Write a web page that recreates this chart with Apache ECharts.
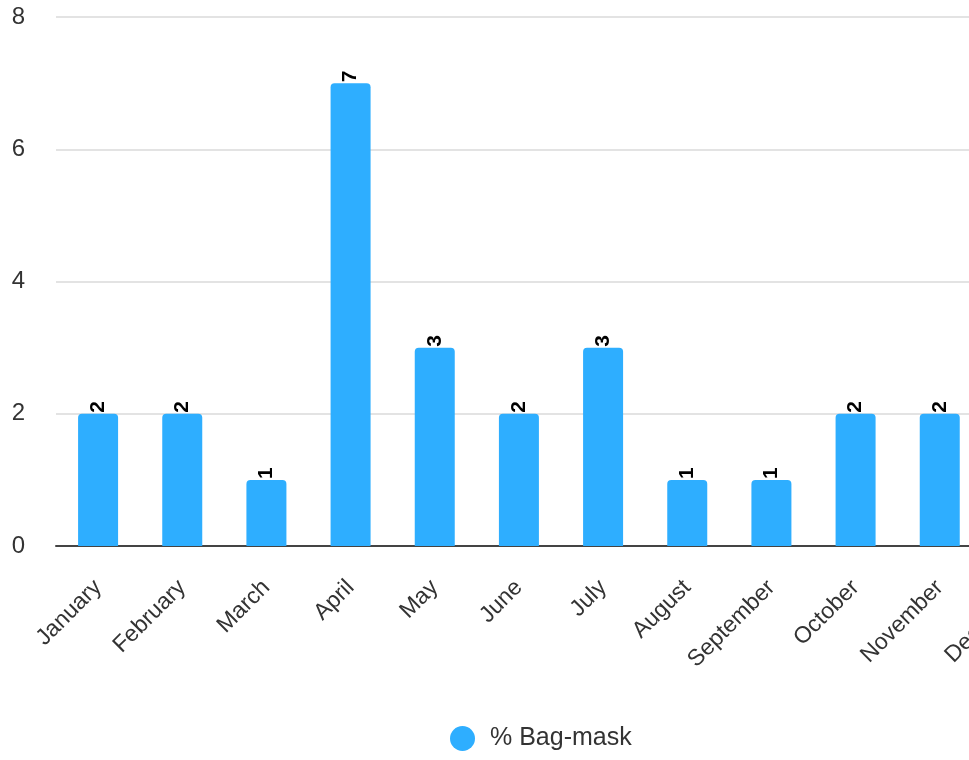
<!DOCTYPE html>
<html>
<head>
<meta charset="utf-8">
<script src="https://cdn.jsdelivr.net/npm/echarts@6/dist/echarts.min.js"></script>
<style>
html,body{margin:0;padding:0;overflow:hidden;background:#fff;}
#chart{width:1085px;height:760px;}
</style>
</head>
<body>
<div id="chart"></div>
<script>
var categories = ["January","February","March","April","May","June","July","August","September","October","November","December"];
var values = [2,2,1,7,3,2,3,1,1,2,2,2];
var seriesName = "% Bag-mask";

var chart = echarts.init(document.getElementById('chart'));
chart.setOption({
  animation: false,
  textStyle: {fontFamily: 'Liberation Sans, Arial, sans-serif'},
  grid: {left: 56, right: 19, top: 17, bottom: 214, containLabel: false},
  legend: {
    bottom: 4, left: 445,
    icon: 'circle', itemWidth: 45, itemHeight: 25, itemGap: 10,
    textStyle: {fontSize: 25, color: '#333', fontFamily: 'Liberation Sans, Arial, sans-serif'},
    data: [seriesName]
  },
  xAxis: {
    type: 'category',
    data: categories,
    axisTick: {show: false},
    axisLine: {lineStyle: {color: '#444', width: 2}},
    axisLabel: {rotate: 45, fontSize: 23, color: '#333', margin: 38, interval: 0}
  },
  yAxis: {
    type: 'value',
    min: 0, max: 8, interval: 2,
    axisLine: {show: false},
    axisTick: {show: false},
    splitLine: {lineStyle: {color: '#e3e3e3', width: 2}},
    axisLabel: {fontSize: 24, color: '#333', margin: 31, padding: [4, 0, 0, 0]}
  },
  series: [{
    name: seriesName,
    type: 'bar',
    data: values,
    barWidth: 40,
    itemStyle: {color: '#2EAEFF', borderRadius: [4,4,0,0]},
    label: {
      show: true, position: 'top', rotate: 90, align: 'left', verticalAlign: 'middle',
      distance: 1, fontSize: 21, fontWeight: 'bold', color: '#000'
    }
  }]
});
</script>
</body>
</html>
